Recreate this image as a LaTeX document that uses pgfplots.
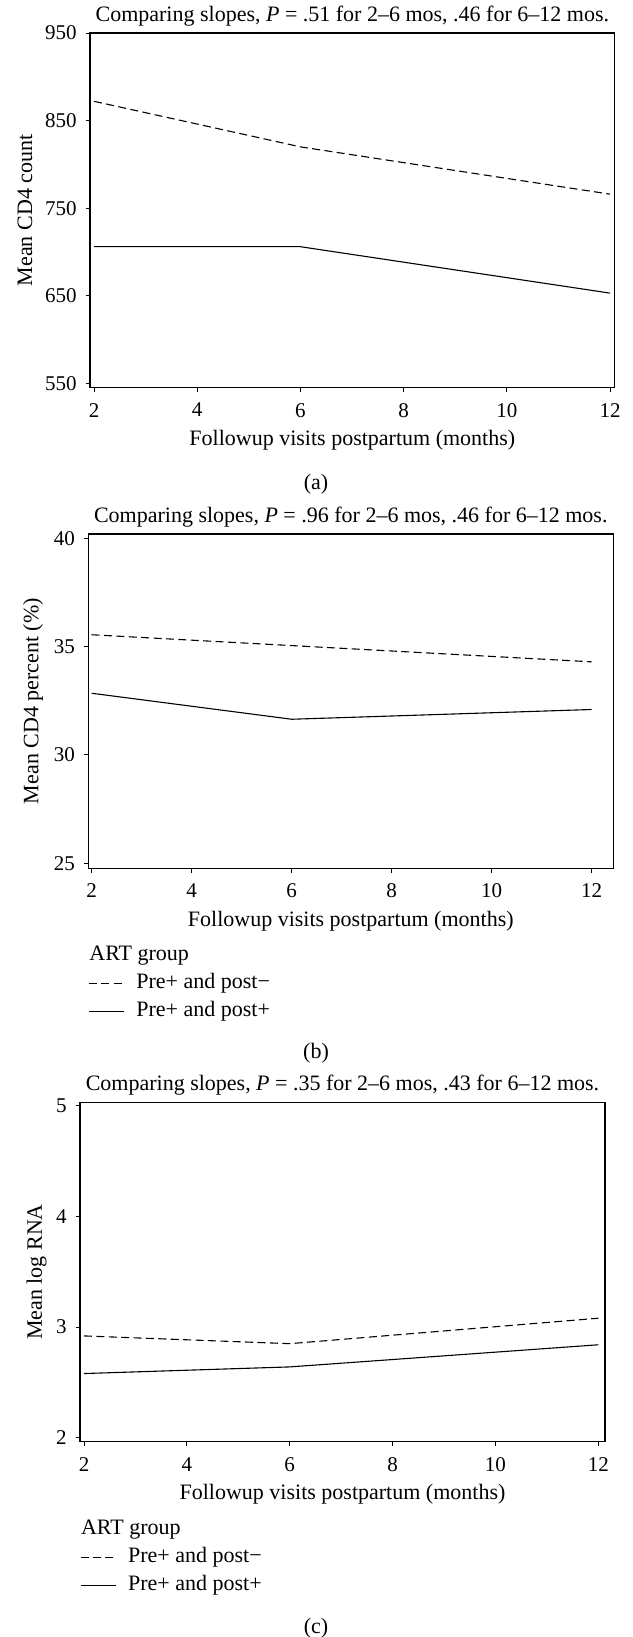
\documentclass[border=0pt]{standalone}
\usepackage{fontspec}
\setmainfont{Liberation Serif}
\usepackage{pgfplots}
\pgfplotsset{compat=1.18}

% 1 px of the reference = 0.5pt here
\newcommand{\fs}{\fontsize{10.5}{12.5}\selectfont}
\newcommand{\ls}{\fontsize{11}{13}\selectfont}

\pgfplotsset{
  panel/.style={
    scale only axis,
    axis line style={line width=0.6pt},
    tick style={line width=0.5pt, black},
    tick align=outside,
    major tick length=2.2pt,
    xtick pos=bottom, ytick pos=left,
    xtick={2,4,...,12},
    /pgf/number format/assume math mode=true,
    tick label style={font=\fs},
    xticklabel style={yshift=-2pt},
    yticklabel style={xshift=-1pt},
    label style={font=\ls},
    title style={font=\ls, at={(axis description cs:0.5,1)}, anchor=base, yshift=-0.2pt},
    xlabel style={at={(axis description cs:0.5,0)}, anchor=center, yshift=-26.2pt},
    xlabel={Followup visits postpartum (months)},
  },
  solidln/.style={black, solid, mark=none, line width=0.55pt},
  dashln/.style={black, mark=none, line width=0.55pt, dash pattern=on 4pt off 2.2pt},
  artlegend/.style={
    legend cell align=left,
    legend image code/.code={\draw[##1] (0pt,0pt) -- (17.5pt,0pt);},
    legend style={at={(axis description cs:0,0)}, anchor=north west, yshift=-39.25pt,
      draw=none, fill=none, inner sep=0pt, outer sep=0pt, row sep=5pt, font=\ls,
      nodes={inner sep=0pt, text height=7pt, text depth=2pt},
      /tikz/every odd column/.append style={column sep=6pt}},
  },
}

\begin{document}
\begin{tikzpicture}
\path[use as bounding box] (0pt,0pt) rectangle (316pt,-818.5pt);

% (a) CD4 count
\begin{axis}[panel,
  at={(45pt,-193.85pt)}, anchor=south west,
  width=262.35pt, height=177.35pt,
  xmin=1.922, xmax=12.091, ymin=545, ymax=950,
  ytick={550,650,750,850,950},
  ylabel={Mean CD4 count},
  ylabel style={at={(axis description cs:-0.124,0.5)}, anchor=center},
  title={Comparing slopes, \textit{P} = .51 for 2–6 mos, .46 for 6–12 mos.},
]
\addplot[dashln] coordinates {(2,872) (6,820) (12,766)};
\addplot[solidln] coordinates {(2,706) (6,706) (12,653)};
\end{axis}

% (b) CD4 percent
\begin{axis}[panel, artlegend,
  at={(44.15pt,-434.15pt)}, anchor=south west,
  width=262.5pt, height=167.15pt,
  xmin=1.932, xmax=12.432, ymin=24.77, ymax=40.2,
  ytick={25,30,35,40},
  ylabel={Mean CD4 percent (\%)},
  ylabel style={at={(axis description cs:-0.105,0.5)}, anchor=center},
  title={Comparing slopes, \textit{P} = .96 for 2–6 mos, .46 for 6–12 mos.},
]
\addlegendimage{empty legend}
\addlegendentry{\hspace*{-23.5pt}ART group}
\addplot[dashln] coordinates {(2,35.55) (6,35.05) (12,34.3)};
\addlegendentry{Pre+ and post−}
\addplot[solidln] coordinates {(2,32.85) (6,31.65) (12,32.1)};
\addlegendentry{Pre+ and post+}
\end{axis}

% (c) log RNA
\begin{axis}[panel, artlegend,
  at={(40pt,-720.85pt)}, anchor=south west,
  width=262.5pt, height=169.7pt,
  xmin=1.922, xmax=12.13, ymin=1.964, ymax=5.031,
  ytick={2,3,4,5},
  ylabel={Mean log RNA},
  ylabel style={at={(axis description cs:-0.0825,0.5)}, anchor=center},
  title={Comparing slopes, \textit{P} = .35 for 2–6 mos, .43 for 6–12 mos.},
]
\addlegendimage{empty legend}
\addlegendentry{\hspace*{-23.5pt}ART group}
\addplot[dashln] coordinates {(2,2.92) (6,2.85) (12,3.08)};
\addlegendentry{Pre+ and post−}
\addplot[solidln] coordinates {(2,2.58) (6,2.64) (12,2.84)};
\addlegendentry{Pre+ and post+}
\end{axis}

\node[font=\ls] at (158pt,-242pt) {(a)};
\node[font=\ls] at (158pt,-526.65pt) {(b)};
\node[font=\ls] at (158pt,-814.15pt) {(c)};
\end{tikzpicture}
\end{document}
